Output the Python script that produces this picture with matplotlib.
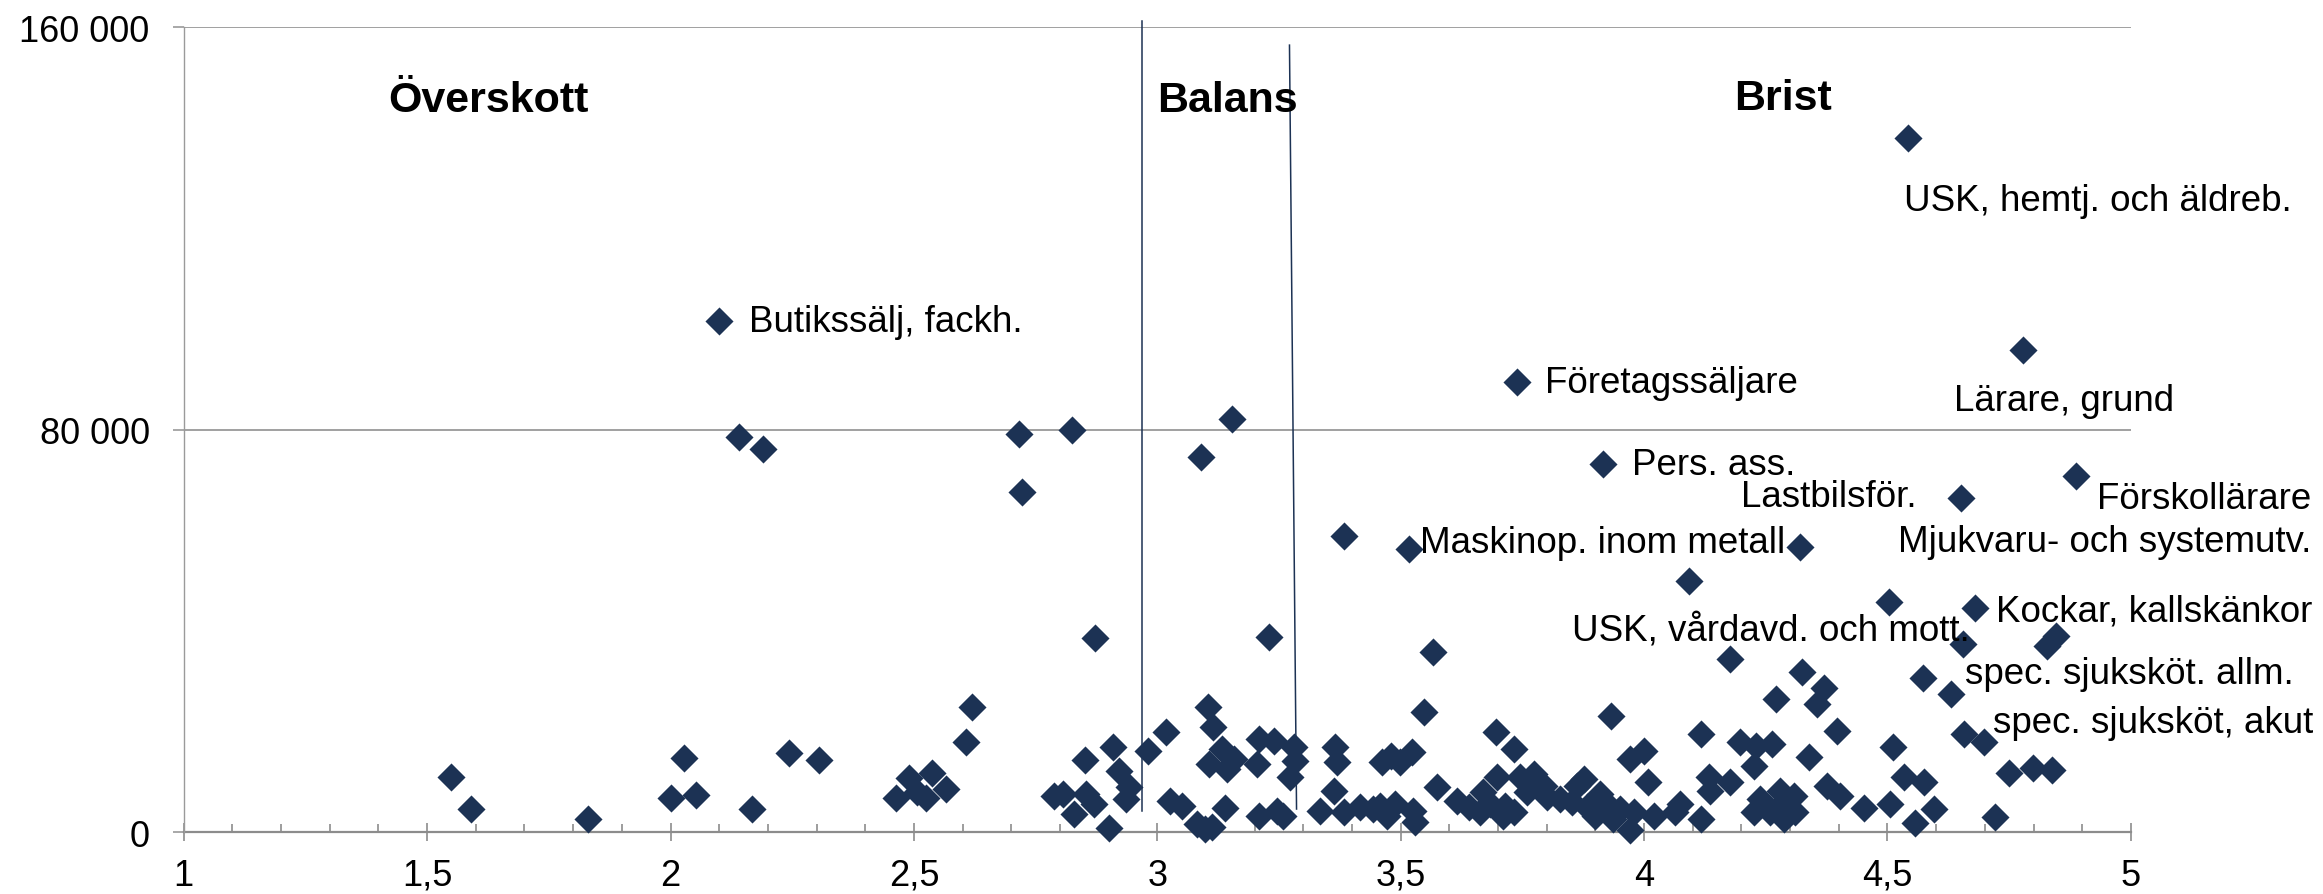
import matplotlib
matplotlib.use("Agg")
import matplotlib.pyplot as plt
from matplotlib.ticker import MultipleLocator

# ---- data: (index, number) per occupation ----
x_vals = [
    1.55, 1.59, 1.83, 2.000, 2.028, 2.052, 2.10, 2.14, 2.167, 2.19,
    2.243, 2.306, 2.463, 2.489, 2.506, 2.525, 2.537, 2.566, 2.606, 2.620,
    2.716, 2.723,
    2.787, 2.807, 2.825, 2.828, 2.851, 2.854, 2.869, 2.872, 2.900, 2.909,
    2.922, 2.941, 2.936, 2.981, 3.018, 3.027, 3.051, 3.081, 3.09, 3.098,
    3.104, 3.107, 3.112, 3.114, 3.133, 3.140, 3.143, 3.153, 3.157, 3.205,
    3.208, 3.208, 3.229, 3.239, 3.246, 3.259, 3.273, 3.280, 3.283, 3.335,
    3.362, 3.364, 3.370, 3.384, 3.383, 3.417, 3.444,
    3.461, 3.480, 3.499, 3.523, 3.458, 3.472, 3.489, 3.526, 3.530, 3.518,
    3.547, 3.566, 3.574, 3.616, 3.640, 3.663, 3.670, 3.684, 3.696, 3.698,
    3.711, 3.715, 3.732, 3.732, 3.738, 3.746, 3.759, 3.773, 3.794, 3.800,
    3.828, 3.852, 3.862, 3.876, 3.883, 3.900, 3.910, 3.915, 3.924, 3.932,
    3.937, 3.951, 3.972, 3.972, 3.979, 3.999, 4.009, 4.020, 4.064, 4.074,
    4.093, 4.116, 4.116, 4.133, 4.136, 4.176, 4.177, 4.198, 4.225, 4.229,
    4.239, 4.225, 4.259, 4.263, 4.270,
    4.280, 4.283, 4.307, 4.310, 4.287, 4.321, 4.324, 4.338, 4.355, 4.369,
    4.376, 4.396, 4.403, 4.451, 4.503, 4.506, 4.511, 4.533, 4.543, 4.557,
    4.573, 4.576, 4.595, 4.631, 4.651, 4.656, 4.658, 4.680, 4.698, 4.720,
    4.749, 4.778, 4.799, 4.828, 4.837, 4.846, 4.888,
]
y_vals = [
    11000, 4600, 2650, 6900, 14850, 7500, 101600, 78500, 4700, 76100,
    15850, 14300, 6900, 10700, 7950, 6800, 11800, 8600, 17900, 24850,
    79100, 67700,
    7300, 7600, 79900, 3650, 14450, 7600, 5650, 38600, 800, 17050,
    12250, 8950, 6650, 16250, 20000, 6300, 5300, 1650, 74600, 650,
    24850, 13600, 1000, 20900, 16550, 4750, 12600, 82200, 14600, 13500,
    18550, 3300, 38800, 18250, 4300, 3300, 10950, 16900, 14250, 4300,
    8300, 16900, 13900, 58800, 4000, 4950, 4650,
    13900, 15200, 13900, 15900, 5300, 3300, 5650, 4300, 2000, 56300,
    23850, 35800, 8950, 6300, 4950, 4000, 7950, 5650, 19900, 10950,
    3300, 5300, 16550, 4000, 89500, 10950, 7950, 11600, 9300, 6950,
    6650, 5950, 9300, 10600, 4950, 3300, 7600, 73250, 5650, 23200,
    2650, 4650, 14600, 400, 4000, 16250, 9950, 3300, 4000, 5650,
    50050, 19550, 2650, 10950, 8300, 34450, 9950, 17900, 13250, 17250,
    6650, 4000, 4000, 17550, 26500,
    8300, 5650, 7300, 4000, 2650, 56700, 31950, 14900, 25500, 28650,
    9300, 20100, 7300, 4750, 45750, 5650, 17050, 10950, 137900, 1850,
    30650, 9950, 4650, 27500, 66400, 37450, 19550, 44500, 18050, 3100,
    11800, 95800, 12750, 37100, 12450, 39100, 70800,
]

point_labels = [
    "Butikssälj, fackh.", "Företagssäljare", "USK, hemtj. och äldreb.",
    "Lärare, grund", "Pers. ass.", "Lastbilsför.", "Förskollärare",
    "Maskinop. inom metall", "Mjukvaru- och systemutv.", "Kockar, kallskänkor",
    "USK, vårdavd. och mott.", "spec. sjuksköt. allm.", "spec. sjuksköt, akut",
]
label_pos = [
    (2.162, 101560), (3.797, 89500), (4.533, 125630),
    (4.637, 85840), (3.976, 73050), (4.200, 66830), (4.930, 66290),
    (3.539, 57680), (4.521, 57800), (4.723, 44080),
    (3.852, 40300), (4.660, 31490), (4.716, 21880),
]

zone_labels = ["Överskott", "Balans", "Brist"]
zone_pos = [(1.420, 145500), (3.000, 145500), (4.185, 145850)]

x_ticks = [1, 1.5, 2, 2.5, 3, 3.5, 4, 4.5, 5]
x_ticklabels = ["1", "1,5", "2", "2,5", "3", "3,5", "4", "4,5", "5"]
y_ticks = [0, 80000, 160000]
y_ticklabels = ["0", "80 000", "160 000"]

navy = "#1c3254"
plt.rcParams["font.family"] = ["Liberation Sans", "DejaVu Sans"]

fig = plt.figure(figsize=(23.23, 8.95), dpi=100)
ax = fig.add_axes([0.0791, 0.0689, 0.9173 - 0.0791, 0.9684 - 0.0689])
ax.set_xlim(1, 5)
ax.set_ylim(0, 160000)

ax.scatter(x_vals, y_vals, marker="D", s=14.3 ** 2, color=navy,
           linewidths=0, zorder=3, clip_on=False)

# Zone separator lines
ax.plot([2.968, 2.968], [4300, 161230], color=navy, lw=1.1, zorder=4, clip_on=False)
ax.plot([3.286, 3.2715], [4630, 156455], color=navy, lw=1.1, zorder=4, clip_on=False)

for t, (px, py) in zip(point_labels, label_pos):
    ax.text(px, py, t, fontsize=26.5, ha="left", va="center", color="black", zorder=5)
for t, (px, py) in zip(zone_labels, zone_pos):
    ax.text(px, py, t, fontsize=31, fontweight="bold", ha="left", va="center",
            color="black", zorder=5)

# Axes styling
for s in ["top", "right"]:
    ax.spines[s].set_visible(False)
ax.spines["left"].set_color("#9a9a9a")
ax.spines["left"].set_linewidth(1.0)
ax.spines["bottom"].set_color("#8c8c8c")
ax.spines["bottom"].set_linewidth(1.6)
ax.spines["bottom"].set_zorder(2)

ax.set_xticks(x_ticks)
ax.set_xticklabels(x_ticklabels)
ax.xaxis.set_minor_locator(MultipleLocator(0.1))
ax.tick_params(axis="x", which="major", direction="inout", length=12.3, width=1.2,
               color="#8c8c8c", labelsize=26, pad=12)
ax.tick_params(axis="x", which="minor", direction="in", length=5.5, width=1.2,
               color="#8c8c8c")

ax.set_yticks(y_ticks)
ax.set_yticklabels(y_ticklabels)
ax.tick_params(axis="y", which="major", direction="out", length=8, width=1.2,
               color="#9a9a9a", labelsize=26, pad=16.5)
ax.yaxis.grid(True, color="#a0a0a0", linewidth=1.4, zorder=0)
ax.set_axisbelow(True)

fig.savefig("out.png", dpi=100)
